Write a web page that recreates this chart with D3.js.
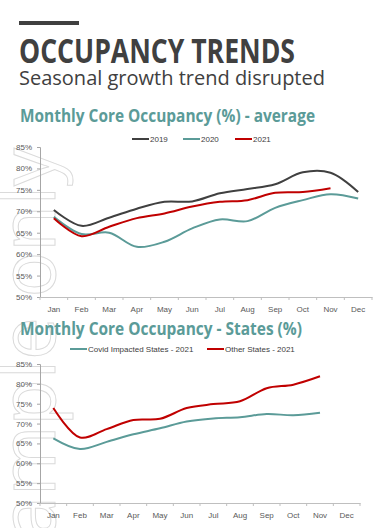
<!DOCTYPE html>
<html>
<head>
<meta charset="utf-8">
<script src="https://cdn.jsdelivr.net/npm/d3@7"></script>
<style>
  body { margin: 0; background: #fff; }
  svg text { font-family: "Liberation Sans", Arial, sans-serif; }
  .ttl { font-family: "Open Sans", sans-serif !important; }
</style>
</head>
<body>
<svg id="chart" width="386" height="528"></svg>
<script>
// data
const months = ["Jan","Feb","Mar","Apr","May","Jun","Jul","Aug","Sep","Oct","Nov","Dec"]
const yTicks = [50, 55, 60, 65, 70, 75, 80, 85]

const avg2019 = [70.3, 66.6, 68.5, 70.6, 72.2, 72.3, 74.2, 75.2, 76.3, 79.1, 79.0, 74.5]
const avg2020 = [68.7, 64.7, 65.0, 61.7, 62.9, 66.0, 68.1, 67.7, 70.8, 72.6, 74.0, 73.0]
const avg2021 = [68.4, 64.2, 66.4, 68.4, 69.5, 71.1, 72.2, 72.6, 74.3, 74.5, 75.4]

const covidStates = [66.3, 63.6, 65.4, 67.3, 68.8, 70.5, 71.3, 71.6, 72.4, 72.1, 72.7]
const otherStates = [73.9, 66.5, 68.6, 70.9, 71.2, 73.9, 74.9, 75.6, 78.9, 79.8, 81.9]

const dark = "#404040", teal = "#5b9b98", red = "#c00000"

const svg = d3.select("#chart")

// watermark
svg.append("text")
    .attr("class", "ttl")
    .attr("transform", "translate(55,148) rotate(-90)")
    .attr("text-anchor", "end")
    .attr("font-size", 76)
    .attr("fill", "none")
    .attr("stroke", "#dadada")
    .attr("stroke-width", 1)
    .text("Sample only")

// header
svg.append("rect").attr("x", 19).attr("y", 21).attr("width", 60).attr("height", 4).attr("fill", dark)
svg.append("text").attr("class", "ttl").attr("x", 19).attr("y", 63)
    .attr("font-size", 34).attr("font-weight", 700).attr("fill", dark)
    .attr("textLength", 276).attr("lengthAdjust", "spacingAndGlyphs")
    .text("OCCUPANCY TRENDS")
svg.append("text").attr("class", "ttl").attr("x", 19).attr("y", 85)
    .attr("font-size", 20).attr("fill", dark).text("Seasonal growth trend disrupted")

function drawChart(opt) {
    const g = svg.append("g")

    g.append("text").attr("class", "ttl").attr("x", 20).attr("y", opt.titleY)
        .attr("font-size", 17).attr("font-weight", 700).attr("fill", teal)
        .attr("textLength", opt.titleW).attr("lengthAdjust", "spacingAndGlyphs")
        .text(opt.title)

    var x = d3.scaleBand().domain(months).range([40, opt.right])
    var y = d3.scaleLinear().domain([50, 85]).range([opt.bottom, opt.top])
    var cx = m => x(m) + x.bandwidth() / 2

    // y axis
    var ya = g.append("g").attr("transform", "translate(40,0)")
        .call(d3.axisLeft(y).tickValues(yTicks).tickFormat(d => d + "%").tickSize(3).tickPadding(5))
    ya.select(".domain").attr("stroke", "#a6a6a6")
    ya.selectAll(".tick line").attr("stroke", "#a6a6a6")
    ya.selectAll("text").attr("font-size", 8).attr("fill", "#595959").attr("font-family", "Liberation Sans, Arial")

    // x axis
    var xa = g.append("g").attr("transform", "translate(0," + opt.bottom + ")")
        .call(d3.axisBottom(x).tickSize(0).tickPadding(9))
    xa.select(".domain").attr("stroke", "#bfbfbf")
    xa.selectAll("text").attr("font-size", 8).attr("fill", "#595959").attr("font-family", "Liberation Sans, Arial")
    var edges = months.map(m => x(m)).concat([x.range()[1]])
    xa.selectAll(".edge").data(edges).enter().append("line")
        .attr("x1", d => d).attr("x2", d => d).attr("y1", 0).attr("y2", 3)
        .attr("stroke", "#bfbfbf")

    // lines
    var line = d3.line()
        .x((d, i) => cx(months[i]))
        .y(d => y(d))
        .curve(d3.curveCatmullRom.alpha(0.5))
    opt.series.forEach(s => {
        g.append("path").datum(s.values)
            .attr("fill", "none").attr("stroke", s.color).attr("stroke-width", 2)
            .attr("d", line)
    })

    // legend
    opt.series.forEach(s => {
        g.append("line").attr("x1", s.lx).attr("x2", s.lx + 17)
            .attr("y1", opt.legendY).attr("y2", opt.legendY)
            .attr("stroke", s.color).attr("stroke-width", 2)
        g.append("text").attr("x", s.lx + 18).attr("y", opt.legendY + 3)
            .attr("font-size", 8).attr("fill", "#404040").text(s.name)
    })
}

drawChart({
    title: "Monthly Core Occupancy (%) - average", titleY: 122, titleW: 295,
    top: 147, bottom: 297, right: 372, legendY: 139,
    series: [
        { name: "2019", values: avg2019, color: dark, lx: 132 },
        { name: "2020", values: avg2020, color: teal, lx: 183 },
        { name: "2021", values: avg2021, color: red, lx: 235 }
    ]
})

drawChart({
    title: "Monthly Core Occupancy - States (%)", titleY: 335, titleW: 282,
    top: 364, bottom: 503, right: 360, legendY: 349,
    series: [
        { name: "Covid Impacted States - 2021", values: covidStates, color: teal, lx: 70 },
        { name: "Other States - 2021", values: otherStates, color: red, lx: 207 }
    ]
})
</script>
</body>
</html>
